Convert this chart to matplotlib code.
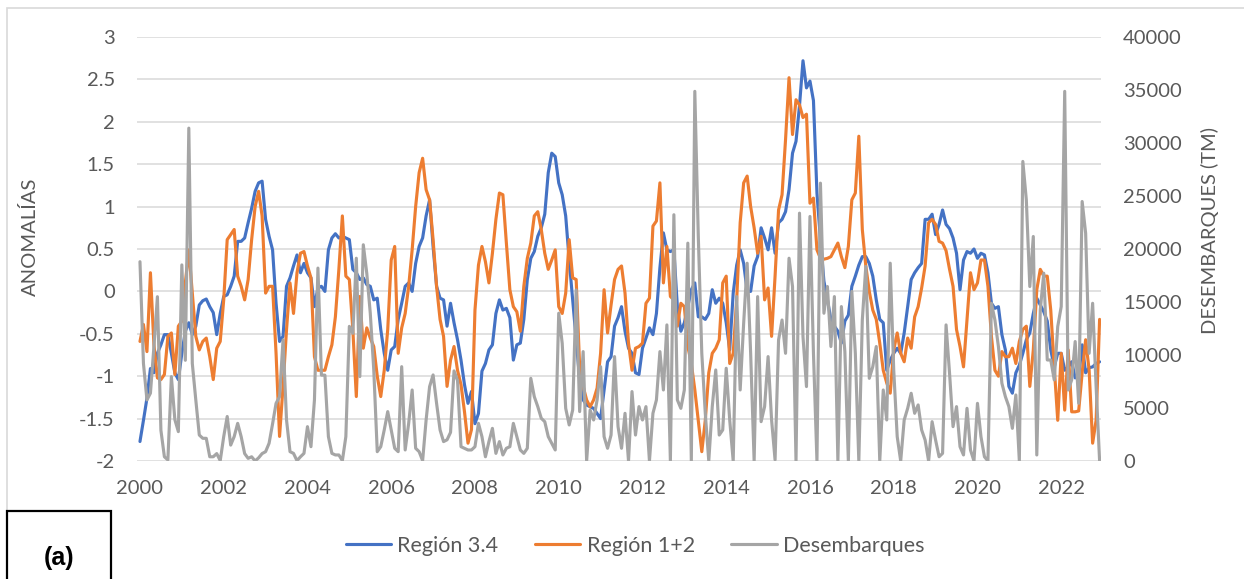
"""
ENSO anomalies (Niño 3.4 and Niño 1+2) vs monthly landings, 2000-2022
=====================================================================
Dual-axis line chart rebuilt from the Excel figure (panel a).
"""

import numpy as np
import matplotlib
matplotlib.use("Agg")
import matplotlib.pyplot as plt
from matplotlib.patches import Rectangle


# ---------------------------------------------------------------------------
# Data (monthly, Jan 2000 - Dec 2022)
# ---------------------------------------------------------------------------
START_YEAR = 2000
TICK_YEARS = list(range(2000, 2023, 2))

region_34 = [
    -1.77, -1.52, -1.26, -0.91, -0.96, -0.73, -0.63, -0.51, -0.51, -0.73, -0.96, -1.04,
    -0.73, -0.47, -0.37, -0.51, -0.41, -0.16, -0.11, -0.09, -0.18, -0.25,
    -0.51, -0.26, -0.06, -0.04, 0.06, 0.18, 0.59, 0.59, 0.63, 0.81,
    0.98, 1.18, 1.28, 1.3, 0.85, 0.65, 0.49, -0.14, -0.59, -0.53,
    0.06, 0.16, 0.3, 0.43, 0.22, 0.33, 0.22, 0.16, -0.18, 0.04,
    0.06, 0.0, 0.49, 0.63, 0.68, 0.63, 0.65, 0.63, 0.61, 0.26,
    0.22, 0.14,
    0.16, 0.08, 0.06, -0.1, -0.08, -0.45, -0.73, -0.93, -0.69, -0.65,
    -0.33, -0.14, 0.06, 0.1, 0.0, 0.33, 0.53, 0.63, 0.89, 1.08,
    0.53, 0.06, -0.08, -0.1, -0.41, -0.14, -0.37, -0.57, -0.81, -1.1,
    -1.32, -1.18, -1.56, -1.44, -0.94, -0.85, -0.69, -0.63, -0.26, -0.1,
    -0.22, -0.2, -0.31,
    -0.81, -0.63, -0.61, -0.33, 0.14, 0.39, 0.47, 0.65, 0.75, 0.91,
    1.4, 1.63, 1.59, 1.28, 1.14, 0.89, 0.37, -0.1, -0.57, -1.04,
    -1.28, -1.34, -1.36, -1.38, -1.44, -1.5, -1.16, -0.83, -0.77, -0.41,
    -0.31, -0.18, -0.47, -0.67, -0.73, -0.96, -0.98, -0.67, -0.55, -0.43,
    -0.51, -0.26,
    0.28, 0.69, 0.49, 0.47, 0.49, -0.18, -0.47, -0.37, -0.18, 0.02,
    0.1, -0.3, -0.3, -0.33, -0.26, 0.02, -0.14, -0.08, -0.14, -0.37,
    -0.69, -0.02, 0.31, 0.49, 0.33, 0.0, 0.0, 0.3, 0.41, 0.75,
    0.63, 0.49, 0.75, 0.45, 0.81, 0.85, 0.94, 1.2, 1.63, 1.77,
    2.19, 2.72, 2.4,
    2.48, 2.25, 1.16, 0.61, 0.12, -0.1, -0.33, -0.41, -0.47, -0.61,
    -0.35, -0.28, 0.06, 0.18, 0.31, 0.41, 0.41, 0.33, 0.18, -0.1,
    -0.33, -0.37, -0.93, -0.81, -0.73, -0.67, -0.73, -0.49, -0.18, 0.14,
    0.22, 0.28, 0.33, 0.85, 0.85, 0.91, 0.67, 0.79, 0.96, 0.79,
    0.74, 0.63, 0.45,
    0.02, 0.37, 0.47, 0.45, 0.5, 0.39, 0.45, 0.43, 0.22, -0.14,
    -0.2, -0.18, -0.51, -0.69, -1.12, -1.2, -0.96, -0.87, -0.73, -0.57,
    -0.49, -0.26, -0.08, -0.16, -0.24, -0.35, -0.69, -0.89, -0.73, -0.73,
    -0.93, -0.89, -0.83, -1.02, -1.0, -0.63, -0.96, -0.9, -0.89, -0.85,
    -0.83,
]

region_12 = [
    -0.59, -0.39, -0.71, 0.22, -0.63, -1.02, -1.04, -0.98, -0.53, -0.49, -0.98, -0.41,
    -0.35, 0.1, 0.49, -0.02, -0.53, -0.69, -0.59, -0.55, -0.77, -1.04,
    -0.67, -0.59, -0.1, 0.61, 0.67, 0.73, 0.18, 0.06, -0.1, 0.14,
    0.61, 1.0, 1.18, 0.89, -0.02, 0.06, 0.06, -0.73, -1.71, -1.12,
    -0.45, 0.1, -0.26, 0.22, 0.45, 0.47, 0.3, 0.16, -0.77, -0.93,
    -0.93, -0.93, -0.77, -0.63, -0.3, 0.26, 0.89, 0.18, 0.14, -0.45,
    -1.24,
    -0.06, -0.67, -0.43, -0.55, -0.65, -1.0, -1.24, -0.93, -0.45, 0.37,
    0.53, -0.73, -0.43, -0.26, 0.06, 0.49, 1.0, 1.4, 1.57, 1.2,
    1.08, 0.61, 0.06, -0.33, -0.53, -1.12, -0.81, -0.65, -0.93, -1.1,
    -1.42, -1.79, -1.63, -0.22, 0.31, 0.53, 0.35, 0.1, 0.45, 0.85,
    1.16, 1.14, 0.57, 0.02,
    -0.18, -0.24, -0.47, 0.06, 0.39, 0.57, 0.89, 0.94, 0.73, 0.45,
    0.26, 0.37, 0.49, -0.18, -0.26, -0.02, 0.61, 0.16, 0.14, -0.89,
    -1.12, -1.28, -1.36, -1.28, -1.14, -0.73, 0.02, -0.49, -0.16, 0.14,
    0.26, 0.3, -0.02, -0.61, -0.93, -0.67, -0.65, -0.61, -0.14, -0.08,
    0.77, 0.83,
    1.28, 0.1, 0.53, -0.06, -0.1, -0.41, -0.14, -0.18, -0.65, -0.85,
    -1.16, -1.52, -1.89, -1.52, -0.96, -0.73, -0.67, -0.57, 0.1, 0.18,
    -0.85, -0.73, -0.1, 0.81, 1.28, 1.36, 1.0, 0.75, 0.45, 0.65,
    -0.1, 0.04, -0.53, 0.18, 0.96, 1.14, 1.79, 2.52, 1.85, 2.26,
    2.2, 2.05, 2.09,
    1.04, 1.1, 0.49, 0.39, 0.38, 0.39, 0.41, 0.49, 0.57, 0.41,
    0.28, 0.53, 1.08, 1.16, 1.83, 0.73, 0.3, 0.0, -0.22, -0.33,
    -0.61, -0.93, -1.08, -1.2, -0.69, -0.49, -0.73, -0.83, -0.55, -0.67,
    -0.3, -0.18, 0.04, 0.3, 0.81, 0.85, 0.79, 0.59, 0.57, 0.48,
    0.26, 0.06, -0.45,
    -0.65, -0.89, -0.33, 0.22, 0.02, 0.1, 0.37, 0.37, 0.06, -0.53,
    -0.93, -1.0, -0.71, -0.77, -0.77, -0.67, -0.85, -0.59, -0.45, -0.41,
    -1.12, -0.69, 0.02, 0.26, 0.18, 0.18, -0.22, -0.89, -1.52, -0.73,
    -1.4, -0.69, -1.42, -1.42, -1.41, -0.96, -0.57, -0.93, -1.79, -1.52,
    -0.33,
]

desembarques = [
    18800, 9200, 5760, 6400, 10800, 15500, 2900, 400, 100, 7960,
    3900, 2770, 18500, 9500, 31400, 9200, 5760, 2450, 2140, 2140,
    400, 400, 700, 30, 2300, 4200, 1500, 2300, 3550, 2300,
    700, 250, 400, 0, 300, 700, 880, 1670, 3500, 5440,
    6070, 11420, 3870,
    880, 720, 30, 400, 720, 3240, 1350, 5760, 18200, 8100,
    8100, 2300, 720, 570, 570, 30, 2300, 12700, 12050, 19130,
    7960, 20400, 17700, 13940, 8590, 880, 1350, 2930, 4660, 2930,
    1200, 880, 8900, 1040, 3550, 6700, 1200, 880, 30, 3870,
    7020, 8120, 5440, 2930, 1830, 2000,
    2700, 8500, 7600, 1350, 1200, 1040, 1040, 1350, 3550, 2300,
    400, 1830, 3080, 720, 1830, 570, 1200, 1350, 3550, 2300,
    1040, 720, 1200, 7800, 6070, 5130, 4030, 3710, 2300, 1670,
    1040, 13940, 11100, 4970, 3400, 4810, 16140, 4660, 10320, 0,
    4810, 3870, 5760, 8900, 2300, 1200, 2450,
    9850, 3240, 1200, 4500, 0, 6550, 2450, 5130, 3870, 5130,
    0, 4500, 5760, 10320, 6700, 12840, 0, 23230, 5760, 4970,
    6700, 20550, 0, 34870, 21180, 10160, 4500, 0, 5130, 8590,
    2450, 2930, 8750, 3870, 0, 15510, 6700, 13000, 18660, 10160,
    0, 15510, 3710, 5130,
    9850, 3870, 100, 11420, 13300, 10160, 19130, 16460, 0, 23380,
    11740, 7020, 23070, 10160, 0, 26210, 13940, 16460, 10800, 15510,
    0, 14570, 10320, 0, 16000, 10160, 0, 13300, 18350, 7800,
    8900, 10800, 0, 6700, 3870, 18660, 8590, 2300, 0, 3870,
    4970, 6390, 4500, 5290, 2930, 1980,
    0, 3710, 1980, 400, 720, 12840, 8280, 3240, 5130, 1350,
    570, 4970, 1040, 0, 5440, 2300, 400, 0, 14880, 13300,
    10800, 7330, 6070, 5130, 3080, 6230, 0, 28260, 24640, 16460,
    21180, 570, 14250, 17720, 9530, 9530, 7650, 12680, 14570, 34870,
    6700, 7650, 11270, 5440, 24480, 21490, 10160, 14880, 7020, 0,
]

# ---------------------------------------------------------------------------
# Style
# ---------------------------------------------------------------------------
BLUE = "#4472C4"
ORANGE = "#ED7D31"
GREY = "#A5A5A5"
TEXT = "#595959"
GRID = "#D9D9D9"
FONT = ["Lato", "DejaVu Sans"]
FS = 14.5
LEGEND_FS = 15.5
LW = 2.25

W, H = 1244, 579  # output size in px (dpi 100)


def fx(px):
    return px / W


def fy(px):
    return 1 - px / H


def main():
    plt.rcParams["font.family"] = FONT

    fig = plt.figure(figsize=(W / 100, H / 100), dpi=100)
    ax = fig.add_axes([fx(137), fy(461), fx(1101) - fx(137), fy(37) - fy(461)])
    ax2 = ax.twinx()

    line_kw = dict(lw=LW, solid_joinstyle="round", solid_capstyle="round")
    h1, = ax.plot(np.arange(len(region_34)), region_34, color=BLUE, label="Región 3.4", **line_kw)
    h2, = ax.plot(np.arange(len(region_12)), region_12, color=ORANGE, label="Región 1+2", **line_kw)
    h3, = ax2.plot(np.arange(len(desembarques)), desembarques, color=GREY, label="Desembarques", **line_kw)

    # axes ranges and ticks
    ax.set_xlim(-0.85, 275.4)
    ax.set_ylim(-2, 3)
    ax2.set_ylim(0, 40000)
    ax.set_yticks(np.arange(-2, 3.01, 0.5))
    ax.set_yticklabels(["-2", "-1.5", "-1", "-0.5", "0", "0.5", "1", "1.5", "2", "2.5", "3"])
    ax2.set_yticks(np.arange(0, 40001, 5000))
    ax.set_xticks([(y - START_YEAR) * 12 for y in TICK_YEARS])
    ax.set_xticklabels([str(y) for y in TICK_YEARS])

    ax.grid(axis="y", color=GRID, lw=1.1)
    ax.set_axisbelow(True)
    for a in (ax, ax2):
        for s in a.spines.values():
            s.set_visible(False)
        a.tick_params(length=0, labelsize=FS, labelcolor=TEXT)
    ax.tick_params(axis="y", pad=16)
    ax.tick_params(axis="x", pad=14)
    ax2.tick_params(axis="y", pad=16)

    # axis titles
    fig.text(fx(30), fy(237), "ANOMALÍAS", rotation=90, ha="center", va="center",
             fontsize=FS, color=TEXT)
    fig.text(fx(1210), fy(231), "DESEMBARQUES (TM)", rotation=90, ha="center", va="center",
             fontsize=FS, color=TEXT)

    # legend under the plot
    fig.legend([h1, h2, h3], ["Región 3.4", "Región 1+2", "Desembarques"],
               loc="center", bbox_to_anchor=(fx(635), fy(546)), ncol=3, frameon=False,
               fontsize=LEGEND_FS, labelcolor=TEXT, handlelength=2.1, handletextpad=0.3,
               columnspacing=1.7)

    # chart border and the "(a)" panel box
    fig.add_artist(Rectangle((fx(7), fy(600)), fx(1300) - fx(7), fy(8) - fy(600),
                             transform=fig.transFigure, fill=False, ec=GRID, lw=1.2))
    fig.add_artist(Rectangle((fx(7), fy(590)), fx(111) - fx(7), fy(511) - fy(590),
                             transform=fig.transFigure, fc="white", ec="black", lw=1.6))
    fig.text(fx(59), fy(558), "(a)", ha="center", va="center", fontsize=18,
             fontweight="bold", family=["Liberation Sans", "DejaVu Sans"], color="black")

    fig.savefig("out.png", dpi=100)
    plt.close(fig)


if __name__ == "__main__":
    main()
